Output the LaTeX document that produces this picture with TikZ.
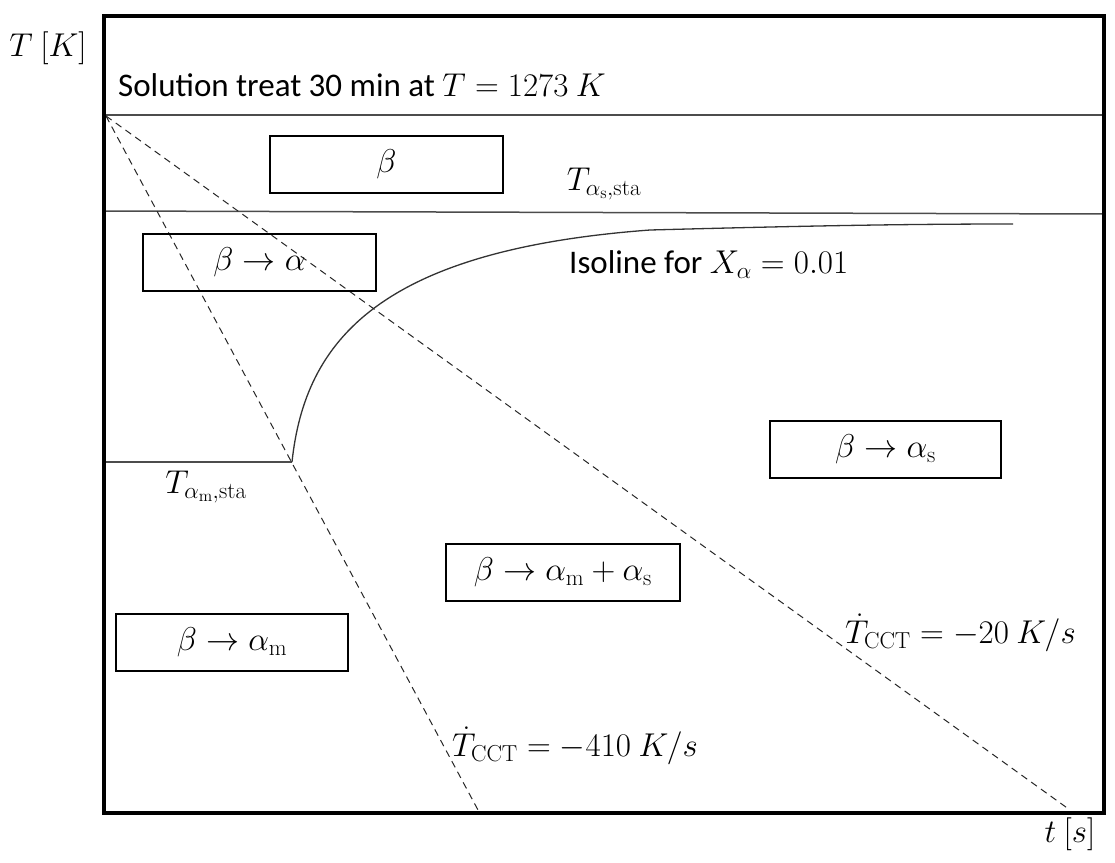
\RequirePackage{fix-cm}
\documentclass[tikz,border=0pt]{standalone}
\usepackage[no-math]{fontspec}
\setmainfont{Carlito}
\begin{document}
\begin{tikzpicture}[x=1pt,y=-1pt,
  font=\fontsize{33}{38}\selectfont,
  phase/.style={draw=black,line width=1.6pt,minimum height=57pt,inner sep=0pt},
  isoline/.style={draw=black!80,line width=1.3pt},
  cct/.style={draw=black!85,line width=1pt,dash pattern=on 7pt off 5pt},
  level/.style={draw=black!70,line width=1.5pt},
  lbl/.style={inner sep=0pt}]
\useasboundingbox (0,0) rectangle (1115,862);
% frame
\coordinate (tl) at (104,16);
\coordinate (br) at (1104,813);
% horizontal lines
\coordinate (top0) at (104,115);
\coordinate (top1) at (1104,115);
\coordinate (as0) at (104,211);
\coordinate (as1) at (1104,214);
\coordinate (am0) at (104,462);
\coordinate (knee) at (292,462);
\coordinate (iso1) at (650,230);
\coordinate (iso2) at (1013,224);
\coordinate (origin) at (106,116);
\coordinate (fastend) at (478,810);
\coordinate (slowend) at (1070,810);
\draw[level] (top0) -- (top1);
\draw[level] (as0) -- (as1);
\draw[level] (am0) -- (knee);
\draw[isoline] (knee) .. controls (305,340) and (380,250) .. (iso1)
  .. controls (800,226) and (900,224) .. (iso2);
\draw[cct] (origin) -- (fastend);
\draw[cct] (origin) -- (slowend);
\draw[line width=3.5pt] (tl) rectangle (br);
% boxes
\node[phase,minimum width=233pt] (b1) at (386.5,164.5) {$\beta$};
\node[phase,minimum width=233pt] (b2) at (259.5,262.5) {$\beta\rightarrow\alpha$};
\node[phase,minimum width=231pt] (b3) at (885.5,449.5) {$\beta\rightarrow\alpha_{\mathrm{s}}$};
\node[phase,minimum width=234pt] (b4) at (563,572.5) {$\beta\rightarrow\alpha_{\mathrm{m}}+\alpha_{\mathrm{s}}$};
\node[phase,minimum width=232pt] (b5) at (232,642.5) {$\beta\rightarrow\alpha_{\mathrm{m}}$};
% labels
\node[lbl] (ty) at (48,48) {$T\ [K]$};
\node[lbl] (tx) at (1070,834) {$t\ [s]$};
\node[lbl,anchor=west] (sol) at (118,85) {Solution treat 30 min at $T=1273\ K$};
\node[lbl] (tas) at (604,184) {$T_{\alpha_{\mathrm{s}},\mathrm{sta}}$};
\node[lbl,anchor=west] (isol) at (569,265) {Isoline for $X_{\alpha}=0.01$};
\node[lbl] (tam) at (206,487) {$T_{\alpha_{\mathrm{m}},\mathrm{sta}}$};
\node[lbl,anchor=west] (c20) at (845,633) {$\dot{T}_{\mathrm{CCT}}=-20\ K/s$};
\node[lbl,anchor=west] (c410) at (452,746) {$\dot{T}_{\mathrm{CCT}}=-410\ K/s$};
\end{tikzpicture}
\end{document}
